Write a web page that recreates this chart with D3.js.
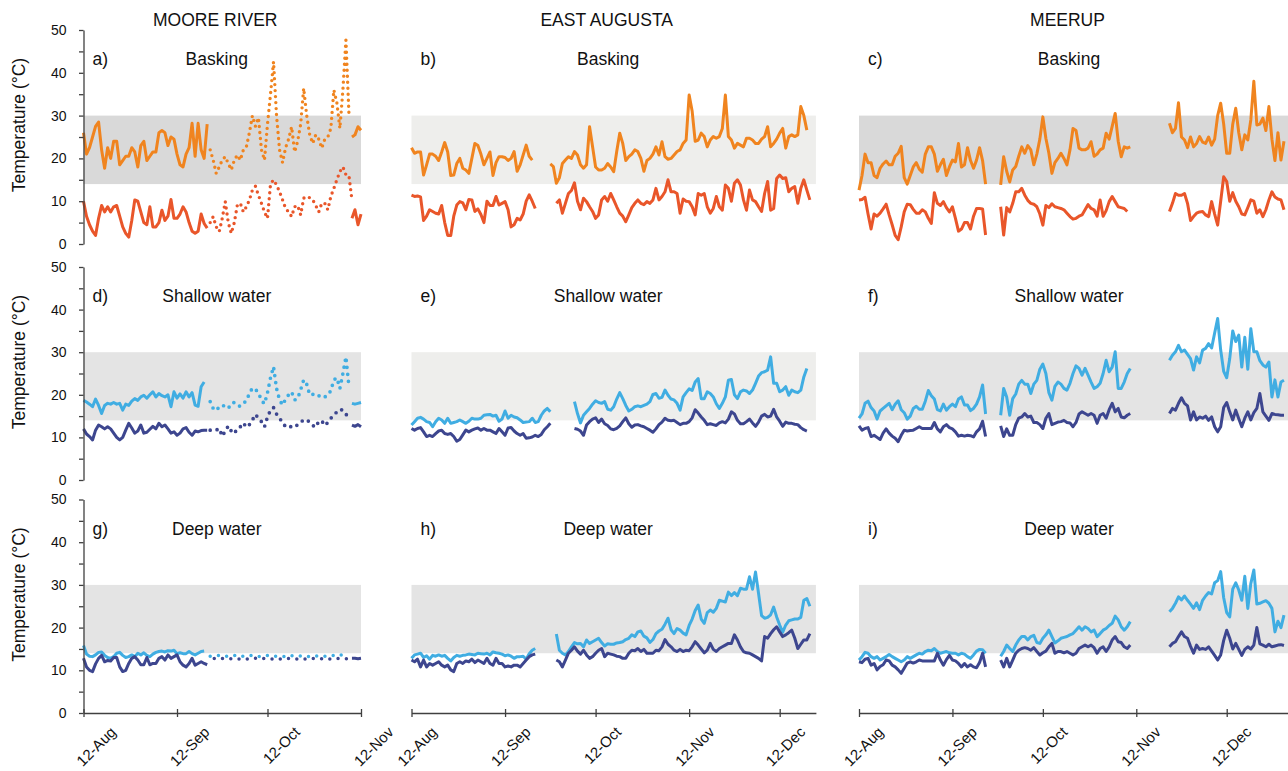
<!DOCTYPE html>
<html lang="en">
<head>
  <meta charset="UTF-8">
  <title>Daily maximum and minimum temperatures - basking, shallow and deep water</title>
  <script src="https://d3js.org/d3.v7.min.js"></script>
  <style>
    body { margin: 0; background: #fff; }
    svg { display: block; font-family: "Liberation Sans", Arial, sans-serif; }
    .axis path, .axis line { stroke: #404040; stroke-width: 1.3; }
    .axis text { font-size: 14px; fill: #111; font-family: "Liberation Sans", Arial, sans-serif; }
    .xaxis text { font-size: 15px; }
    .title { font-size: 17.5px; fill: #111; }
  </style>
</head>
<body>
<svg id="chart" width="1288" height="771"></svg>
<script>
  // days are counted from 12-Aug (day 0); each block is [first day, daily values]
  const siteNames = ["MOORE RIVER", "EAST AUGUSTA", "MEERUP"];
  const siteEnd = ["2014-11-12", "2014-12-24", "2015-01-02"];
  const habitatNames = ["Basking", "Shallow water", "Deep water"];
  const panelLetters = [["a)", "b)", "c)"], ["d)", "e)", "f)"], ["g)", "h)", "i)"]];
  const tickDates = ["2014-08-12", "2014-09-12", "2014-10-12", "2014-11-12", "2014-12-12"];
  const preferredBand = [14, 30];

  // ---- Moore River ----
  const mooreBaskMax = [
    [0, [26,21,22.5,25,27.5,28.5,22,17.7,22.5,20,24,24,18.5,19.5,20.5,20.5,22.5,21.5,18,23,24,19.5,20.5,21.5,21.5,26,26.5,26,23,25,24.5,21,18.5,18,21,22.5,28.2,20.5,28.2,22,20,28]],
    [89, [25,25.5,27.4,26.6]]
  ];
  const mooreBaskMaxDot = [
    [42, [22,19.6,16.5,18,19.6,20.4,18.8,17.3,19.6,20.8,19.6,22,22.7,26,30,27.5,29.5,22,19.6,28,35,42.6,30,22,19,22.5,24.5,27.4,21.5,24,28,36.4,30,25.5,23.5,25.5,24.5,22.4,24.5,25,27,36,33,27,36,47.6,30.5]]
  ];
  const mooreBaskMin = [
    [0, [10,6.5,4.5,3,2,6,9,7.5,8.7,7.5,8.7,9,6.5,4,2.5,1.6,5.5,10.3,10,7.5,5,4.5,8.7,4,4,5,7.9,5.5,6.5,10.4,6,6,7,8.7,7.5,5,3,2.5,3,7,4.8,3.7]],
    [89, [6,8,4.5,7]]
  ];
  const mooreBaskMinDot = [
    [42, [5,6.4,4,2.9,6,9.9,5,2.5,5,9.1,9.5,7.5,8.7,10.3,12.6,13.5,11.4,9.5,7.5,6,14,15,13.8,12.2,10.3,8.3,7.5,6.4,8.7,9,6.8,10.7,11.1,10.8,10.3,9,7.5,9.5,9.5,8,11.1,13,15,16.9,18,16.2,16,10.3]]
  ];
  const mooreShalMax = [
    [0, [18.7,18.3,17.8,17.2,19,17.5,15.6,17.5,18,17.8,18.2,17.8,18,16.4,17.8,17.5,18.5,19.1,18.7,19.5,19.9,19.2,20,20.7,19.5,20.3,19.8,19.5,20,17.2,20.7,19.2,20.2,19.2,20.7,19.5,20.5,17.6,17.3,21.9,23]],
    [89, [18,17.8,18,18.2]]
  ];
  const mooreShalMaxDot = [
    [42, [18.4,16.8,16.3,17.2,17.6,17.2,16.8,18,18.2,17.5,17.3,18,18.6,20.3,21.6,21.3,20.5,18.7,17.9,20.5,24,26.6,21.5,18.8,17.6,19,20,20.7,18.8,19.1,21.2,23.5,22.5,20,20.1,20.3,19.8,19.3,19.5,19.9,21,23.5,24,21.5,25,28.9,22]]
  ];
  const mooreShalMin = [
    [0, [12,10.8,10.2,9.4,11.7,12.9,12.5,12,12.5,12,11,10,9.4,10,11.7,13.3,12.2,11,11.5,12.9,11,11.2,11.9,12.6,12,13.3,12.5,12.9,12,11,11.3,10.5,11,12,12.3,11.2,10.5,11.5,11.3,11.6,11.7,11.7]],
    [89, [12.9,12.6,13,12.5]]
  ];
  const mooreShalMinDot = [
    [42, [11.7,11.7,11.7,12.1,10.3,11.5,12.7,11.5,10.9,12.1,12.5,13.4,12.4,13,14.1,15.4,14.5,13.7,12.5,14.8,16.4,17,15.5,14.5,13.5,12.5,12.3,12.6,12.4,13,13.7,14,14.2,13.5,12.8,12.4,13.8,13.9,12.8,13.5,14.5,15.2,16,16.6,16.4,15.5,14.5]]
  ];
  const mooreDeepMax = [
    [0, [15.8,13.8,13.3,13.2,13.6,14.2,14.3,13.5,13,12.8,13.2,14,14.2,13.5,13,13.2,13.6,13.2,14,13.6,14.1,13.5,13.2,13.8,14.2,14.4,14.5,14.3,14.6,14.5,14.7,13.9,14.1,13.9,13.9,14.4,13.9,13.6,14,14.4,14.5]]
  ];
  const mooreDeepMaxDot = [
    [42, [13.3,13.2,13.4,13.5,13.3,13.2,13.4,13.3,13.5,13.2,13.4,13.3,13.2,13.4,13.5,13.3,13.2,13.4,13.3,13.5,13.4,13.2,13.3,13.4,13.3,13.2,13.5,13.4,13.3,13.2,13.4,13.5,13.3,13.2,13.4,13.3,13.5,13.4,13.3,13.2,13.4,13.5,13.3,13.6,13.5,13.4]]
  ];
  const mooreDeepMin = [
    [0, [12.8,10.8,10,9.7,11.5,12.8,13.5,12,12.3,12.2,13,13,10.8,9.7,10,11.6,12.8,13.2,12.4,11.3,11.3,13,11.3,11.6,11.6,12.8,13.2,12.4,13.6,12.8,13.2,13.6,12,11.2,10.8,11.6,12.8,11.2,11.6,12,11.6,11.3]],
    [89, [12.8,12.8,12.7,12.8]]
  ];
  const mooreDeepMinDot = [
    [42, [12.6,12.8,12.7,12.6,12.8,12.7,12.6,12.7,12.8,12.6,12.7,12.8,12.6,12.7,12.6,12.8,12.7,12.6,12.8,12.7,12.6,12.7,12.8,12.6,12.7,12.6,12.8,12.7,12.6,12.7,12.8,12.6,12.7,12.6,12.8,12.7,12.6,12.7,12.8,12.6,12.7,12.6,12.8,12.7,12.6,12.7,12.8]]
  ];

  // ---- East Augusta ----
  const eaBaskMax = [
    [0, [22.5,21.2,21.5,21.5,16.1,18.5,21,21,20.5,19.5,21.5,23.7,21.5,16,16.1,18.8,20,17.7,17.3,16.5,20,23.5,23,21,18.5,20,21.5,16,19,20.4,20.4,20.2,19.5,20,21.6,17,18.5,20.8,23.1,20.5,19.6]],
    [46, [18.7,18.1,14.2,15.5,18.8,19.6,20.4,20,21.6,20.8,18.5,17.7,18.5,27.4,22.7,18,17.3,17.3,17.7,18.8,18,16.9,21.6,25.9,23.5,19.5,20.4,21,22,21.6,20,17,19.5,20,21,22.7,20.8,23.9,20.4,19.8,20,20.8,21.6,22,23.5,24.3,34.8,31,24,24.3,25.9,25.1,22.7,24.3,25.1,24.7,25.1,27,34.8,25.1,24.3,22.4,23.5,23.1,22.7,24.7,24.7,24.3,23.5,23.5,24.5,25.1,27.4,22.7,23.5,24.5,25.9,27,22.4,25.1,25.5,25.1,25.5,32.1,30,26.6]]
  ];
  const eaBaskMin = [
    [0, [11.4,11.1,11.2,11,5.5,6.5,8,7.6,7.2,7,9,5,2,2,6.5,9.1,9.9,9.6,8,10.4,10.3,7.6,8.2,6.9,5,10,9,9,11.1,9.1,9.5,9.9,8,4,4.5,6,5.6,7,10,11.5,10,8.3]],
    [48, [9.5,10.3,7.2,9.5,11.8,12.5,14.3,10,8,10.7,9.9,8.7,7.6,6,6.8,10.3,11.1,10,11.8,10.3,8.7,7.2,6.5,5.2,6.8,8.5,9.5,10.3,9.5,9.2,9.9,9.5,10.3,13,10.3,11.1,12.2,15,12.2,12.2,11.8,7.2,10.5,10,9.9,8.7,6.8,11.8,11.4,11.8,8.7,7.2,8.3,11.1,8.7,7.9,13.8,13,10,14.2,15,13.8,10.3,7.9,12.6,10.3,9.9,8.7,7.6,11.8,14.6,7.9,8.3,15.3,16.1,15.3,15.5,12.2,13,13.4,9.5,13,15,12.6,10.3]]
  ];
  const eaShalMax = [
    [0, [12.9,13.7,14.5,14.7,14.3,13.7,13.5,12.5,13.7,14.5,14.1,13.3,14.5,13.3,13.5,13.7,14.1,13.7,13.3,13.8,14.5,14.3,14.3,14.5,15.2,15.3,15.4,15,15.2,13.8,14.3,16.2,14.5,15.2,14.8,14.6,14.1,13.5,13.6,13.7,14.5,13.5,13.7,15.2,16.2,16.8,16]],
    [54, [18.4,15.6,13.4,15.2,16,16.8,17.8,18.6,18.2,18,18.4,16.6,16.4,17.2,19,20.5,19.1,17.5,16.2,16.6,17.2,17.4,17.2,17.5,17.8,18.4,20.1,20.3,19.2,19.4,21.1,19.9,19,18.8,18,16.4,19.5,20.5,21.4,21,23,23.8,19.1,19.1,20.7,20.3,19.5,17.9,16.8,18,19.5,23.4,23.6,20,19.1,20.7,21.1,20.9,20.3,21.1,22.7,24.4,25.2,25.4,25.8,28.9,22.7,22.7,20.7,21.1,21.9,19.9,21.1,20.7,20.5,21.1,24.2,26.2]]
  ];
  const eaShalMin = [
    [0, [12.1,11.7,12.1,12.3,11.3,10.2,10.5,10.2,10.9,11.5,11.7,10.9,10.7,10.9,10.2,9.1,9.5,10.6,11.7,11.3,11.7,12,12.2,11.7,12.1,11.7,11.7,11.3,10.9,12.1,11.3,10.5,12.2,12.3,11.5,10.9,10.5,10.9,9.8,9.9,10.1,10.5,10.2,10.7,11.8,12.5,13.3]],
    [54, [12.1,11.9,11.5,10.5,12.9,13.7,14.3,14.6,13.5,14.3,13.2,12.8,12,11.8,12.1,12.7,13.7,14.6,13.2,12.4,12.9,13,12.7,12.5,12.1,11.7,11.2,12,13,13.6,14.5,14,13.9,14,13.5,13,13.3,13.3,13.7,14.6,16.5,15.7,14.8,14,13,13.2,13,12.8,13.4,13.7,13.4,14.3,16,15.5,14,13.2,13.2,13.7,14.3,13.4,12.6,13.6,15,15.4,14.8,15,16.6,14.8,13.8,12.6,13.6,13.3,13.3,13.1,13,12.3,11.8,11.5]]
  ];
  const eaDeepMax = [
    [0, [12.8,13.6,13.8,14,13,13.4,12.6,13.5,13.3,13.6,13.3,13.5,12.8,12.2,13,13.5,13.3,13.5,13.6,13.8,13.7,13.6,14,13.9,13.8,14,13.6,14.3,14.1,14,13.8,13.4,13.6,13.3,12.8,13.2,13.2,13.3,12.6,13.9,14.7,15.1]],
    [48, [18.5,14.7,14,13.6,14.4,15.5,16.5,16.2,16.3,15.5,17.1,16.3,16.7,17.1,17.5,16.5,15.7,16.2,16.1,16.1,16.4,16.5,16.7,17.2,17.5,18.3,17.9,19,19.2,18,17.6,16.5,17.2,18.6,19.2,19.6,20.8,22.2,19.5,18.6,19.8,19.4,18.7,18.3,20.5,22,24,25.3,22,21,23.5,24.1,23.6,24.5,26.4,26.2,26,28.3,27.5,28.2,27.5,29.2,29,29,31.9,29,33,28,22.8,22.2,22.4,23,24.8,22.5,20.6,18.9,20.6,21.6,21.8,22,22,22.4,26.4,26.8,25]]
  ];
  const eaDeepMin = [
    [0, [12.4,12,12.6,10.8,12.4,10.8,11.6,11.2,11.6,12,11.2,10.8,11.2,10.1,9.7,11.6,12,11.6,12.2,12,12.6,11.8,12.4,12,11.6,12.8,11.6,11.2,12.8,11.6,11.6,10.8,11,10.8,11.2,11.2,10.8,11.6,12.4,13.2,13.6,13.8]],
    [48, [12.4,12,10.8,12.4,14,14.7,15.5,14.5,13.8,14.7,13.6,12.8,13.2,14,14.7,15.1,13.2,14,13.8,13.6,13.3,13.2,12.8,12.8,14,14.7,14.6,15.1,14.4,14.9,14,14,14,14.7,14.6,15.5,17.2,16.1,15.5,14.7,14.4,14.9,14.4,14.7,14.6,15.5,16.7,15.9,15,14.1,14.7,16.3,14.9,14.4,15.1,15.5,15.9,16.3,16.3,18.3,17.1,15.5,14.4,14.1,14,13.6,13.2,12.8,12.2,17.9,17.5,18.6,19.5,20.2,19,17.9,18.3,18.8,19.4,17.5,15.1,16.1,17.1,17.1,18.6]]
  ];

  // ---- Meerup ----
  const meBaskMax = [
    [0, [12.6,16,21,19,19,16,15.5,17.7,18.7,19.4,18.5,18.5,20.5,21.2,22.8,15.5,14,16,18,19,17.5,16.8,21,22.7,22.7,21,17,18.5,19.8,16,18,19.6,19.2,23.5,18,18.5,22.5,19.5,17.7,19.6,22.5,19.5,14]],
    [47, [13.8,20.4,17,14.5,17.3,18.1,20.5,22.7,21.2,23,22,18.5,21,24.5,29.7,24.7,21.2,16.5,19,20,21.2,20,18.5,22,27,26.5,22.4,22,22,22.4,23.9,20.5,21,22,22.4,25.9,24.5,27.5,30.5,24,20.4,22.7,22.4,22.7]],
    [103, [28.2,26,27,33,25,24.3,22.5,25,22.7,23.5,25.1,23.8,23.5,25,23.1,24.5,30,32.9,28,21.2,21.2,28,31.7,26,22,25.5,24.3,29,38,27.8,28,29.4,26.5,32.1,24.5,19.5,26,19.6,24]]
  ];
  const meBaskMin = [
    [0, [10.3,10.4,10.9,7,3.5,7,6.5,7.2,8.2,9.3,6.8,4.5,2,1,4,7.5,9.3,9.2,8.1,7.2,7.2,8,7.5,6,4.8,12,9.5,9,9.9,8.5,7.5,8.7,6,3,3.5,5,5,3.5,6.5,8.3,8.3,8.2,2.1]],
    [47, [8.7,2.1,8.5,7.5,9.5,12.2,12.2,13,11.4,10.2,9.5,9.3,8.7,7,4.4,9,8.5,9.4,8.7,8.5,8.3,8,7.2,6.4,5.8,6,6.5,6.8,8,9.2,8.3,8,6.5,10.3,6.5,7.8,9.9,11.1,9.9,8.7,8.5,8.3,7.6]],
    [103, [7.6,9.5,11.8,11.4,11.4,11.8,9.5,5.5,6.4,7.2,7.5,7.6,6.8,6.4,9.9,7,4.4,10,15.7,14.6,10,12,10,8.7,7,6.8,8.5,10.3,10,7.2,8,6.4,8,10.3,12.2,11,10.5,10.3,8]]
  ];
  const meShalMax = [
    [0, [14.5,15.5,18,18.5,17,16.2,14.3,16.2,16.8,17.4,18,16.5,17.8,18.6,16.5,15.8,14.3,15,16.8,17.3,16.6,16.6,18.5,21,19.8,19,16.5,16.2,17.8,16.4,17.2,17.8,17.2,19,19.5,17.6,17.6,16.3,16.8,17.8,19.5,22.3,15.5]],
    [47, [15.2,21.5,19.5,15.2,19.1,20.2,22.5,23.4,22.5,22.5,20.3,22.5,23.4,26,27.2,25,20.5,18.75,22,23,22.5,21.5,21.1,22.7,25,26.8,26.2,24.6,26.2,24.6,23,21.5,21.9,22.7,25,28.1,25.4,26.5,30.1,21.5,21.5,23,25,26.2]],
    [103, [28.1,29.3,30.1,31.6,30.1,30.5,29.5,28.5,25.8,28.9,27.5,30.5,30.9,32,31,34.5,37.9,30.5,25.5,24,28.5,35,32.5,34,26.5,33.5,26,35.5,30.1,30.1,28,27,26.5,27.7,19.5,23.5,19.5,23,23.4]]
  ];
  const meShalMin = [
    [0, [12.7,11.7,12.1,12.3,10.2,10.5,10,9.5,11,12,11,10.3,9.8,9,10.5,11.7,11.5,11.6,11.7,12.1,12.5,12.1,12.1,12.1,12.1,13.5,12,11.3,12.5,13,12.3,12,11.3,10.3,10.5,10.3,10.5,10.4,10.1,11.3,12,13.8,10.2]],
    [47, [12.7,10.2,12,10.5,10.5,13,14.5,14.8,15.6,14.8,15,13.5,13.5,13,12.1,14.5,15.6,13,13.3,13.6,13.7,14,13.5,13.4,12.5,13.5,15.5,16,15.6,15.2,15.6,15.2,13.3,15.2,15.6,14.5,16.5,18,16,16.8,14.8,14.6,15.2,15.6]],
    [103, [15.6,16.8,16.4,18,19.3,18,17.4,14.1,16,14.1,14.8,14.5,15,14,14.8,12.5,11.3,12.5,17,18.2,16,14.1,16.4,14.4,12.5,14.5,16,14.1,15.8,16.8,20.3,16,15,14,15.6,15.4,15.3,15.2,15.2]]
  ];
  const meDeepMax = [
    [0, [12.4,13.2,14.2,14,13.2,12.8,13.2,12.4,12.8,13.2,13.7,13.2,12.8,12.4,12,12.4,13.2,12.8,13.2,13.6,14,13.8,14.4,14.7,14.6,15.1,14.4,14,14.2,14.4,14.1,14,14,13.6,14,13.8,13.2,12.8,13.6,14.5,14.9,14.8,14]],
    [47, [13.3,14.4,15.9,15.1,14.4,15.9,17.1,17.9,17.9,17.1,17.9,18.2,16.5,16.3,17.5,18.3,19.4,17.9,16.4,16.9,17.5,17.7,17.9,18.3,18.6,19.4,20.2,19.4,20.2,19.8,19,19.4,17.9,18.6,19.4,19.8,20.5,21,22.7,21.8,20.2,19.4,20.2,21.4]],
    [103, [23.7,24.5,25.7,27.2,26.5,27.4,26.4,25.5,24.5,25.8,24.2,26.4,27.4,28.2,27.9,30.5,31,33.1,27,23.5,22.5,29,30.5,28.8,26.4,32,24.5,30.3,33.5,25.5,25.7,26,26.3,25.7,24.5,19,21.5,20,22.9]]
  ];
  const meDeepMin = [
    [0, [12,11.8,12.6,12.8,11.2,11.6,10.1,10.9,11.3,12.4,12.2,11.2,10.8,10.1,9.3,10.5,11.7,12,11.7,12,12.4,12.2,12.2,12.2,12.2,12.2,14,12.4,11.2,12.5,13.5,12.4,12.2,11.6,10.8,11.6,10.8,11.3,10.8,10.6,11.8,14,10.8]],
    [47, [12.4,10.8,12.8,10.8,12.4,14,14.7,15.1,15.3,15.1,14.7,15.3,14.4,13.6,14.1,14.5,15.5,16.3,14,14.4,14.4,14.1,14.4,14,13.6,14,15.1,15.5,15.9,15.5,15.9,15.3,14,15.1,15.5,14.4,15.5,17.1,17.9,16.7,16.5,15.5,15.1,15.9]],
    [103, [15.5,16.3,16.7,17.9,19,17.9,17.5,15.6,14,15.9,14.9,15.1,14.9,15.5,14.5,13.5,12.4,13.6,17,19.4,17.5,15,16.3,14.9,13.5,14.9,15.5,15,15.9,20,16.2,15.9,15.5,16.1,15.5,15.7,15.9,16,15.8]]
  ];

  // panel table: rows = habitat, columns = site
  const panels = [
    [
      { max: mooreBaskMax, min: mooreBaskMin, maxDot: mooreBaskMaxDot, minDot: mooreBaskMinDot },
      { max: eaBaskMax, min: eaBaskMin },
      { max: meBaskMax, min: meBaskMin }
    ],
    [
      { max: mooreShalMax, min: mooreShalMin, maxDot: mooreShalMaxDot, minDot: mooreShalMinDot },
      { max: eaShalMax, min: eaShalMin },
      { max: meShalMax, min: meShalMin }
    ],
    [
      { max: mooreDeepMax, min: mooreDeepMin, maxDot: mooreDeepMaxDot, minDot: mooreDeepMinDot },
      { max: eaDeepMax, min: eaDeepMin },
      { max: meDeepMax, min: meDeepMin }
    ]
  ];

  const lineColors = [
    ["#f0841f", "#e9562a"],
    ["#40ade2", "#3d468f"],
    ["#40ade2", "#3d468f"]
  ];
  const bandFill = [
    ["#d9d9d9", "#eeeeec", "#d9d9d9"],
    ["#e4e4e4", "#eeeeec", "#e4e4e4"],
    ["#e4e4e4", "#e4e4e4", "#e4e4e4"]
  ];
  const dotStyle = [
    { w: 3.4, a: "0 6", o: [0, 0] },
    { w: 3.7, a: "0 7", o: [0, 0] },
    { w: 3.5, a: "0 8.4", o: [0, 4.2] }
  ];

  // layout
  const colX = [[83.5, 361], [411.5, 815.9], [859, 1290]];
  const rowY = [[244, 30], [480, 267], [713, 499.5]];
  const xLabelShift = [33, 26, 25];

  const parse = d3.timeParse("%Y-%m-%d");
  const day0 = parse("2014-08-12");
  const fmt = d3.timeFormat("%-d-%b");
  const svg = d3.select("#chart");

  function drawSeries(g, x, y, segs, color, dot, off) {
    if (!segs) return;
    segs.forEach(([from, vals]) => {
      const pts = vals.map((v, i) => [d3.timeDay.offset(day0, from + i), v]);
      const p = g.append("path")
        .datum(pts)
        .attr("d", d3.line().x(d => x(d[0])).y(d => y(d[1])))
        .attr("fill", "none")
        .attr("stroke", color)
        .attr("stroke-linejoin", "round");
      if (dot) {
        p.attr("stroke-width", dot.w)
          .attr("stroke-linecap", "round")
          .attr("stroke-dasharray", dot.a)
          .attr("stroke-dashoffset", off);
      } else {
        p.attr("stroke-width", 3);
      }
    });
  }

  siteNames.forEach((site, c) => {
    const x = d3.scaleTime()
      .domain([day0, parse(siteEnd[c])])
      .range(colX[c]);
    const [x0, x1] = colX[c];
    const xc = (x0 + x1) / 2;

    svg.append("text")
      .attr("class", "title")
      .attr("x", xc - 7)
      .attr("y", 26)
      .attr("text-anchor", "middle")
      .text(site);

    habitatNames.forEach((hab, r) => {
      const y = d3.scaleLinear().domain([0, 50]).range(rowY[r]);
      const g = svg.append("g");
      const p = panels[r][c];

      g.append("rect")
        .attr("x", x0)
        .attr("width", x1 - x0)
        .attr("y", y(preferredBand[1]))
        .attr("height", y(preferredBand[0]) - y(preferredBand[1]))
        .attr("fill", bandFill[r][c]);

      const ds = dotStyle[r];
      drawSeries(g, x, y, p.max, lineColors[r][0]);
      drawSeries(g, x, y, p.maxDot, lineColors[r][0], ds, ds.o[0]);
      drawSeries(g, x, y, p.min, lineColors[r][1]);
      drawSeries(g, x, y, p.minDot, lineColors[r][1], ds, ds.o[1]);

      g.append("text")
        .attr("class", "title")
        .attr("x", x0 + 9)
        .attr("y", y(50) + 35)
        .text(panelLetters[r][c]);

      g.append("text")
        .attr("class", "title")
        .attr("x", xc - 5.5)
        .attr("y", y(50) + 35)
        .attr("text-anchor", "middle")
        .text(hab);

      if (c === 0) {
        g.append("g")
          .attr("class", "axis")
          .attr("transform", `translate(${x0},0)`)
          .call(d3.axisLeft(y)
            .tickValues(d3.range(0, 51, 5))
            .tickSizeInner(4.5)
            .tickSizeOuter(0)
            .tickPadding(12.5)
            .tickFormat(d => d % 10 ? "" : d));

        g.append("text")
          .attr("class", "title")
          .attr("transform", `translate(25,${y(50) + 95}) rotate(-90)`)
          .attr("text-anchor", "middle")
          .text("Temperature (°C)");
      }

      if (r === 2) {
        const ticks = tickDates.map(parse).filter(d => d <= x.domain()[1]);
        const ax = g.append("g")
          .attr("class", "axis xaxis")
          .attr("transform", `translate(0,${y(0)})`)
          .call(d3.axisBottom(x)
            .tickValues(ticks)
            .tickSizeInner(4)
            .tickSizeOuter(0)
            .tickFormat(fmt));
        ax.selectAll(".tick line").attr("y1", -4);
        ax.selectAll(".tick text")
          .attr("x", 0)
          .attr("y", 0)
          .attr("dy", 0)
          .attr("text-anchor", "end")
          .attr("transform", `translate(${xLabelShift[c]},20) rotate(-45)`);
      }
    });
  });
</script>
</body>
</html>
